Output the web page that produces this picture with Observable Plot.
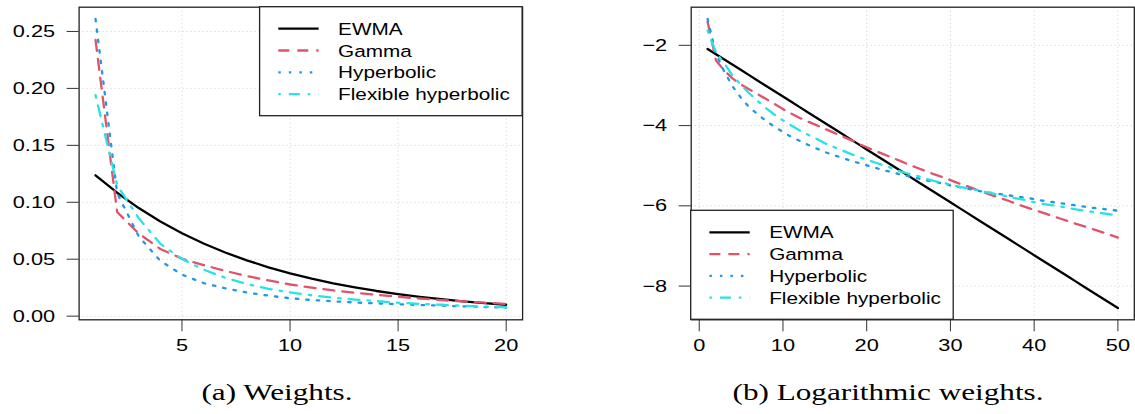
<!DOCTYPE html>
<html><head><meta charset="utf-8">
<script src="https://cdn.jsdelivr.net/npm/d3@7"></script>
<script src="https://cdn.jsdelivr.net/npm/@observablehq/plot@0.6"></script>
<style>
body{margin:0;background:#fff;}
#wrap{position:relative;width:1135px;height:414px;overflow:hidden;background:#fff;}
#wrap svg{position:absolute;top:0;}
</style></head><body>
<div id="wrap"></div>
<script>
const seriesNames = ["EWMA", "Gamma", "Hyperbolic", "Flexible hyperbolic"];
const seriesColors = ["#000000", "#DF536B", "#2297E6", "#28E2E5"];
const seriesDash = [null, "11,8", "2.5,8", "2.5,8,11,8"];

// Panel (a): weights, lags 1..20
const lagsA = [1,2,3,4,5,6,7,8,9,10,11,12,13,14,15,16,17,18,19,20];
const wEWMA  = [0.1237,0.1084,0.0949,0.0831,0.0728,0.0638,0.0559,0.0490,0.0429,0.0376,0.0329,0.0288,0.0253,0.0221,0.0194,0.0170,0.0149,0.0130,0.0114,0.0100];
const wGamma = [0.2425,0.0915,0.0725,0.0590,0.0505,0.0448,0.0398,0.0352,0.0314,0.0278,0.0250,0.0226,0.0206,0.0188,0.0170,0.0155,0.0141,0.0129,0.0118,0.0108];
const wHyper = [0.2610,0.1080,0.0700,0.0485,0.0365,0.0290,0.0245,0.0208,0.0180,0.0157,0.0142,0.0130,0.0120,0.0112,0.0105,0.0098,0.0092,0.0086,0.0080,0.0075];
const wFlex  = [0.1940,0.1150,0.0860,0.0635,0.0503,0.0408,0.0337,0.0282,0.0240,0.0209,0.0183,0.0162,0.0146,0.0132,0.0118,0.0108,0.0100,0.0091,0.0084,0.0078];

// Panel (b): log weights, lags 1..50
const lagsB = [1,2,3,4,5,6,7,8,9,10,11,12,13,14,15,16,17,18,19,20,21,22,23,24,25,26,27,28,29,30,31,32,33,34,35,36,37,38,39,40,41,42,43,44,45,46,47,48,49,50];
const lEWMA  = [-2.090,-2.222,-2.354,-2.485,-2.617,-2.749,-2.881,-3.013,-3.144,-3.276,-3.408,-3.540,-3.672,-3.803,-3.935,-4.067,-4.199,-4.331,-4.462,-4.594,-4.726,-4.858,-4.990,-5.121,-5.253,-5.385,-5.517,-5.649,-5.780,-5.912,-6.044,-6.176,-6.308,-6.439,-6.571,-6.703,-6.835,-6.967,-7.098,-7.230,-7.362,-7.494,-7.626,-7.757,-7.889,-8.021,-8.153,-8.285,-8.416,-8.548];
const lGamma = [-1.41,-2.38,-2.63,-2.83,-2.98,-3.10,-3.22,-3.34,-3.46,-3.59,-3.70,-3.81,-3.90,-3.99,-4.08,-4.17,-4.26,-4.35,-4.45,-4.54,-4.63,-4.71,-4.80,-4.88,-4.97,-5.05,-5.13,-5.21,-5.28,-5.36,-5.44,-5.51,-5.59,-5.66,-5.74,-5.81,-5.88,-5.96,-6.03,-6.10,-6.17,-6.24,-6.31,-6.38,-6.45,-6.51,-6.58,-6.65,-6.72,-6.79];
const lHyper = [-1.34,-2.22,-2.66,-3.03,-3.31,-3.55,-3.72,-3.89,-4.03,-4.16,-4.28,-4.38,-4.48,-4.57,-4.66,-4.73,-4.80,-4.87,-4.93,-4.99,-5.05,-5.11,-5.16,-5.22,-5.26,-5.31,-5.36,-5.40,-5.44,-5.49,-5.53,-5.57,-5.61,-5.65,-5.68,-5.71,-5.74,-5.77,-5.80,-5.83,-5.87,-5.90,-5.93,-5.96,-5.99,-6.02,-6.05,-6.07,-6.10,-6.12];
const lFlex  = [-1.63,-2.18,-2.45,-2.76,-2.99,-3.20,-3.39,-3.57,-3.73,-3.87,-4.00,-4.12,-4.23,-4.33,-4.44,-4.53,-4.61,-4.70,-4.78,-4.85,-4.92,-4.99,-5.06,-5.14,-5.20,-5.25,-5.32,-5.38,-5.42,-5.47,-5.52,-5.56,-5.60,-5.65,-5.69,-5.73,-5.78,-5.82,-5.86,-5.91,-5.95,-5.98,-6.01,-6.05,-6.09,-6.12,-6.15,-6.18,-6.21,-6.24];

const xTicksA = [5,10,15,20];
const yTicksA = [0,0.05,0.10,0.15,0.20,0.25];
const xTicksB = [0,10,20,30,40,50];
const yTicksB = [-2,-4,-6,-8];
const captionA = "(a) Weights.";
const captionB = "(b) Logarithmic weights.";

function toRows(xs, cols) {
  const rows = [];
  cols.forEach((vals, k) => xs.forEach((x, i) => rows.push({lag: x, value: vals[i], series: seriesNames[k]})));
  return rows;
}

const SANS = "'Liberation Sans', Arial, Helvetica, sans-serif";
const SERIF = "'Liberation Serif', 'Times New Roman', serif";

function stretchText(svg, sx) {
  svg.querySelectorAll('g[aria-label$="tick label"] text').forEach(t => {
    let tr = t.getAttribute("transform");
    if (!tr) {
      const x = t.getAttribute("x") || 0, y = t.getAttribute("y") || 0;
      t.removeAttribute("x"); t.removeAttribute("y");
      tr = `translate(${x},${y})`;
    }
    t.setAttribute("transform", tr + ` scale(${sx},1)`);
  });
}

function panel(o) {
  const rows = toRows(o.xs, o.cols);
  const marks = [
    Plot.gridX(o.xTicks, {stroke: "#cccccc", strokeOpacity: 1, strokeDasharray: "1,3"}),
    Plot.gridY(o.yTicks, {stroke: "#cccccc", strokeOpacity: 1, strokeDasharray: "1,3"}),
    ...seriesNames.map((s, k) => Plot.line(rows.filter(r => r.series === s), {
      x: "lag", y: "value", stroke: seriesColors[k], strokeWidth: 2.3,
      strokeDasharray: seriesDash[k] || undefined, clip: true
    })),
    Plot.frame({stroke: "#222", strokeWidth: 1.3}),
    Plot.axisX(o.xTicks, {tickSize: 12, tickPadding: 7, stroke: "#333", tickFormat: o.xFormat}),
    Plot.axisY(o.yTicks, {tickSize: 12, tickPadding: 12, stroke: "#333", tickFormat: o.yFormat})
  ];
  const svg = Plot.plot({
    width: o.width, height: o.height,
    marginLeft: o.margin[3], marginRight: o.margin[1], marginTop: o.margin[0], marginBottom: o.margin[2],
    x: {domain: o.xDomain, label: null},
    y: {domain: o.yDomain, label: null},
    style: {fontFamily: SANS, fontSize: "17px", color: "#000", background: "#fff", overflow: "visible"},
    marks
  });
  stretchText(svg, 1.28);
  const fl = o.margin[3], fr = o.width - o.margin[1], ft = o.margin[0], fb = o.height - o.margin[2];
  const lw = 262.5, lh = 109;
  const bx = o.legend === "topright" ? fr - lw : fl;
  const by = o.legend === "topright" ? ft : fb - lh;
  const g = d3.select(svg).append("g").attr("text-anchor", "start");
  g.append("rect").attr("x", bx).attr("y", by).attr("width", lw).attr("height", lh)
    .attr("fill", "#fff").attr("stroke", "#222").attr("stroke-width", 1.3);
  seriesNames.forEach((s, k) => {
    const cy = by + 22 + k * 21.8;
    const ln = g.append("line").attr("x1", bx + 18.7).attr("x2", bx + 59).attr("y1", cy).attr("y2", cy)
      .attr("stroke", seriesColors[k]).attr("stroke-width", 2.3);
    if (seriesDash[k]) ln.attr("stroke-dasharray", seriesDash[k]);
    g.append("text").attr("transform", `translate(${bx + 78.5},${cy}) scale(1.22,1)`)
      .attr("text-anchor", "start")
      .attr("dy", "0.36em").attr("font-family", SANS).attr("font-size", 17).attr("fill", "#000").text(s);
  });
  d3.select(svg).append("text")
    .attr("transform", `translate(${o.captionX},400) scale(1.3,1)`)
    .attr("text-anchor", "middle").attr("font-family", SERIF).attr("font-size", 24).attr("fill", "#000")
    .text(o.caption);
  svg.style.left = o.left + "px";
  return svg;
}

const minus = d => d < 0 ? "\u2212" + Math.abs(d) : String(d);
const wrap = document.getElementById("wrap");
wrap.appendChild(panel({
  left: 0, width: 560, height: 414, margin: [6.7, 37.9, 94.7, 78.6],
  xs: lagsA, cols: [wEWMA, wGamma, wHyper, wFlex],
  xDomain: [0.24, 20.76], yDomain: [-0.0032, 0.2713],
  xTicks: xTicksA, yTicks: yTicksA, xFormat: d => String(d), yFormat: d3.format(".2f"),
  legend: "topright", caption: captionA, captionX: 277
}));
wrap.appendChild(panel({
  left: 560, width: 575, height: 414, margin: [6.7, 1.2, 94.7, 130.7],
  xs: lagsB, cols: [lEWMA, lGamma, lHyper, lFlex],
  xDomain: [-0.96, 51.96], yDomain: [-8.84, -1.05],
  xTicks: xTicksB, yTicks: yTicksB, xFormat: d => String(d), yFormat: minus,
  legend: "bottomleft", caption: captionB, captionX: 328
}));
</script>
</body></html>
